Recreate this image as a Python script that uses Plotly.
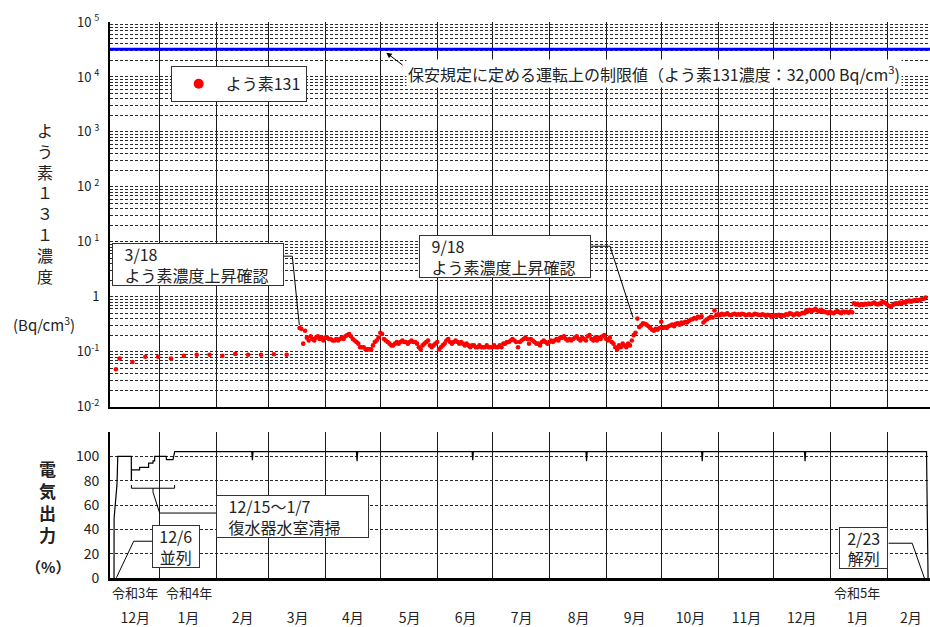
import plotly.graph_objects as go
import pandas as pd

FONT = "Noto Sans CJK JP"
W, H = 930, 627
ML, MR, MT, MB = 110, 0, 22, 47
PW = W - ML - MR
PH = H - MT - MB

# ---------------- data ----------------
LIMIT = 32000  # Bq/cm3

# weekly iodine-131 samples before 3/18
early_dates = ["2021-12-08", "2021-12-10", "2021-12-17", "2021-12-24", "2021-12-31",
               "2022-01-07", "2022-01-14", "2022-01-21", "2022-01-28", "2022-02-04",
               "2022-02-11", "2022-02-18", "2022-02-25", "2022-03-04", "2022-03-11"]
early_iodine = [0.048, 0.075, 0.065, 0.081, 0.081, 0.075, 0.084, 0.088, 0.088, 0.084,
                0.091, 0.088, 0.088, 0.090, 0.088]

# daily iodine-131 samples (start date, values)
iodine_2203 = ("2022-03-18", [0.27, 0.26, 0.14, 0.24, 0.18, 0.16, 0.19, 0.17, 0.16, 0.18,
                              0.19, 0.17, 0.18, 0.16])
iodine_2204 = ("2022-04-01", [0.18, 0.18, 0.17, 0.17, 0.16, 0.16, 0.17, 0.16, 0.17, 0.18,
                              0.17, 0.19, 0.20, 0.21, 0.19, 0.17, 0.16, 0.15, 0.14, 0.12,
                              0.12, 0.12, 0.11, 0.11, 0.11, 0.11, 0.13, 0.15, 0.16, 0.18])
iodine_2205 = ("2022-05-01", [0.22, 0.21, 0.17, 0.16, 0.15, 0.14, 0.13, 0.13, 0.14, 0.15,
                              0.14, 0.15, 0.16, 0.15, 0.15, 0.14, 0.15, 0.16, 0.15, 0.15,
                              0.14, 0.12, 0.11, 0.13, 0.14, 0.15, 0.16, 0.13, 0.12, 0.13, 0.14])
iodine_2206 = ("2022-06-01", [0.15, 0.11, 0.12, 0.13, 0.14, 0.16, 0.17, 0.15, 0.14, 0.15,
                              0.16, 0.15, 0.14, 0.15, 0.14, 0.13, 0.14, 0.13, 0.12, 0.13,
                              0.13, 0.12, 0.12, 0.13, 0.12, 0.12, 0.12, 0.13, 0.12, 0.12])
iodine_2207 = ("2022-07-01", [0.12, 0.13, 0.12, 0.12, 0.13, 0.12, 0.14, 0.14, 0.15, 0.15,
                              0.16, 0.17, 0.16, 0.15, 0.12, 0.15, 0.16, 0.17, 0.18, 0.17,
                              0.14, 0.17, 0.16, 0.15, 0.14, 0.14, 0.13, 0.15, 0.16, 0.15, 0.14])
iodine_2208 = ("2022-08-01", [0.15, 0.16, 0.15, 0.16, 0.17, 0.16, 0.18, 0.18, 0.19, 0.17,
                              0.16, 0.17, 0.16, 0.17, 0.18, 0.19, 0.17, 0.16, 0.18, 0.17,
                              0.16, 0.19, 0.20, 0.17, 0.16, 0.18, 0.16, 0.18, 0.17, 0.19, 0.20])
iodine_2209 = ("2022-09-01", [0.17, 0.16, 0.18, 0.15, 0.14, 0.12, 0.11, 0.13, 0.12, 0.14,
                              0.13, 0.12, 0.14, 0.13, 0.16, 0.20, 0.22,
                              0.40, 0.28, 0.30, 0.33, 0.32, 0.31, 0.29, 0.27, 0.25, 0.24,
                              0.26, 0.25, 0.27])
iodine_2210 = ("2022-10-01", [0.35, 0.27, 0.28, 0.27, 0.29, 0.30, 0.31, 0.29, 0.32, 0.33,
                              0.31, 0.34, 0.33, 0.35, 0.34, 0.36, 0.38, 0.39, 0.41, 0.40,
                              0.43, 0.42, 0.44, 0.34, 0.37, 0.39, 0.41, 0.43, 0.42, 0.56, 0.46])
iodine_2211 = ("2022-11-01", [0.48, 0.46, 0.49, 0.47, 0.48, 0.50, 0.47, 0.46, 0.48, 0.49,
                              0.47, 0.48, 0.47, 0.49, 0.48, 0.46, 0.47, 0.48, 0.46, 0.47,
                              0.49, 0.48, 0.47, 0.46, 0.48, 0.47, 0.45, 0.47, 0.46, 0.43])
iodine_2212 = ("2022-12-01", [0.44, 0.46, 0.45, 0.47, 0.44, 0.46, 0.45, 0.48, 0.47, 0.50,
                              0.49, 0.46, 0.48, 0.50, 0.47, 0.49, 0.51, 0.50, 0.56, 0.54,
                              0.58, 0.55, 0.57, 0.60, 0.56, 0.54, 0.58, 0.55, 0.53, 0.52, 0.50])
iodine_2301 = ("2023-01-01", [0.53, 0.51, 0.50, 0.53, 0.55, 0.52, 0.50, 0.54, 0.52, 0.53,
                              0.51, 0.54, 0.52, 0.76, 0.72, 0.74, 0.70, 0.73, 0.71, 0.74,
                              0.72, 0.75, 0.73, 0.76, 0.78, 0.74, 0.72, 0.75, 0.78, 0.80, 0.77])
iodine_2302 = ("2023-02-01", [0.72, 0.68, 0.66, 0.70, 0.74, 0.76, 0.74, 0.78, 0.76, 0.80,
                              0.78, 0.82, 0.85, 0.81, 0.84, 0.86, 0.88, 0.85, 0.88, 0.90,
                              0.92, 0.97])
daily_blocks = [iodine_2203, iodine_2204, iodine_2205, iodine_2206, iodine_2207, iodine_2208,
                iodine_2209, iodine_2210, iodine_2211, iodine_2212, iodine_2301, iodine_2302]

# electrical output (%)
power_dates = ["2021-12-06 23:00", "2021-12-07 00:00", "2021-12-08 14:00", "2021-12-09 00:00",
               "2021-12-16 09:00", "2021-12-16 10:00", "2021-12-16 12:00",
               "2021-12-20 21:00", "2021-12-20 22:00", "2021-12-25 19:00", "2021-12-25 20:00",
               "2021-12-28 04:00", "2021-12-28 05:00", "2021-12-29 02:00", "2021-12-29 03:00",
               "2022-01-04 09:00", "2022-01-04 12:00", "2022-01-08 02:00", "2022-01-09 00:00",
               "2022-02-20 00:00", "2022-02-20 08:00", "2022-02-20 16:00",
               "2022-04-18 00:00", "2022-04-18 08:00", "2022-04-18 16:00",
               "2022-06-20 00:00", "2022-06-20 08:00", "2022-06-20 16:00",
               "2022-08-21 00:00", "2022-08-21 08:00", "2022-08-21 16:00",
               "2022-10-23 00:00", "2022-10-23 08:00", "2022-10-23 16:00",
               "2022-12-18 00:00", "2022-12-18 08:00", "2022-12-18 16:00",
               "2023-02-22 12:00", "2023-02-23 08:00"]
power_values = [0, 49, 77, 100,
                100, 80, 89,
                89, 91, 91, 94.5,
                94.5, 96.4, 96.4, 100,
                100, 97.3, 97.3, 104,
                104, 97, 104,
                104, 96, 104,
                104, 97, 104,
                104, 96, 104,
                104, 96, 104,
                104, 96, 104,
                104, 0]

# axis labels
month_bounds = ["2022-01-01", "2022-02-01", "2022-03-01", "2022-04-01", "2022-05-01",
                "2022-06-01", "2022-07-01", "2022-08-01", "2022-09-01", "2022-10-01",
                "2022-11-01", "2022-12-01", "2023-01-01", "2023-02-01"]
month_tick_dates = ["2021-12-18 12:00", "2022-01-16 12:00", "2022-02-15", "2022-03-17",
                    "2022-04-16", "2022-05-17", "2022-06-16 12:00", "2022-07-17",
                    "2022-08-17", "2022-09-16 12:00", "2022-10-17", "2022-11-16 12:00",
                    "2022-12-16 12:00", "2023-01-16", "2023-02-14"]
month_tick_labels = ["12月", "1月", "2月", "3月", "4月", "5月", "6月", "7月", "8月",
                     "9月", "10月", "11月", "12月", "1月", "2月"]
era_dates = ["2021-12-18 12:00", "2022-01-17", "2023-01-15 12:00"]
era_labels = ["令和3年", "令和4年", "令和5年"]
decade_vals = [0.01, 0.1, 1, 10, 100, 1000, 10000, 100000]
decade_text = ["10<sup>-2</sup>", "10<sup>-1</sup>", "1", "10 <sup>1</sup>", "10 <sup>2</sup>",
               "10 <sup>3</sup>", "10 <sup>4</sup>", "10 <sup>5</sup>"]
power_ticks = [0, 20, 40, 60, 80, 100, 120]
power_tick_text = ["0", "20", "40", "60", "80", "100", ""]

X_RANGE = ["2021-12-04 18:30", "2023-02-24 09:20"]

# ---------------- build ----------------
iod_x = list(pd.to_datetime(early_dates))
iod_y = list(early_iodine)
for start, vals in daily_blocks:
    iod_x += list(pd.date_range(start, periods=len(vals), freq="D"))
    iod_y += vals

minor_log = [k * 10 ** e for e in range(-2, 5) for k in range(2, 10)]


def px(x):
    return (x - ML) / PW


def py(y):
    return (H - MB - y) / PH


GRID = "#2a2a2a"
DASH = "3px,2px"

fig = go.Figure()
fig.add_trace(go.Scatter(x=iod_x, y=iod_y, mode="markers", xaxis="x2", yaxis="y2",
                         marker=dict(color="#ff0000", size=4.6), showlegend=False,
                         hoverinfo="skip"))
fig.add_trace(go.Scatter(x=[None], y=[None], mode="markers", xaxis="x2", yaxis="y2",
                         marker=dict(color="#ff0000", size=10), name="よう素131",
                         showlegend=True))
fig.add_trace(go.Scatter(x=power_dates, y=power_values, mode="lines", xaxis="x", yaxis="y",
                         line=dict(color="black", width=1.2), showlegend=False,
                         hoverinfo="skip"))

minor_x = dict(tickmode="array", tickvals=month_bounds, showgrid=True, gridcolor="#1a1a1a",
               gridwidth=1.3, ticks="")
tickfont = dict(family=FONT, size=14, color="#222")

fig.update_layout(
    width=W, height=H,
    margin=dict(l=ML, r=MR, t=MT, b=MB, pad=0),
    paper_bgcolor="white", plot_bgcolor="white",
    font=dict(family=FONT, color="#222"),
    xaxis=dict(type="date", domain=[0, 1], anchor="y", range=X_RANGE,
               tickmode="array", tickvals=month_tick_dates, ticktext=month_tick_labels,
               showgrid=False, ticks="", ticklabelstandoff=25, tickfont=tickfont,
               minor=minor_x, showline=True, linecolor="black", linewidth=3, zeroline=False),
    xaxis2=dict(type="date", domain=[0, 1], anchor="y2", range=X_RANGE, matches="x",
                tickmode="array", tickvals=month_tick_dates, showticklabels=False,
                showgrid=False, ticks="", minor=minor_x, showline=True, linecolor="black",
                linewidth=2, zeroline=False),
    yaxis=dict(domain=[0, py(433.6)], range=[0, 120], anchor="x", tickmode="array",
               tickvals=power_ticks, ticktext=power_tick_text, showgrid=True,
               gridcolor=GRID, griddash=DASH, gridwidth=1, showline=True,
               linecolor="black", linewidth=2, ticks="", ticklabelstandoff=6,
               tickfont=tickfont, zeroline=False),
    yaxis2=dict(type="log", domain=[py(408), 1], range=[-2, 5], anchor="x2",
                tickmode="array", tickvals=decade_vals, ticktext=decade_text,
                showgrid=True, gridcolor=GRID, griddash=DASH, gridwidth=1,
                minor=dict(tickmode="array", tickvals=minor_log, showgrid=True,
                           gridcolor=GRID, griddash=DASH, gridwidth=1, ticks=""),
                showline=True, linecolor="black", linewidth=2, ticks="",
                ticklabelstandoff=6, tickfont=dict(family=FONT, size=13, color="#222"),
                zeroline=False),
    legend=dict(x=px(170.7), y=py(66), xanchor="left", yanchor="top", bgcolor="white",
                bordercolor="#333", borderwidth=1, itemwidth=44,
                font=dict(family=FONT, size=16, color="#222")),
)

# limit line
fig.add_shape(type="line", xref="x2 domain", yref="y2", x0=0, x1=1, y0=LIMIT, y1=LIMIT,
              line=dict(color="#0000ff", width=3))

ann = []
txtfont = dict(family=FONT, size=16, color="#222")
# limit label + arrow
ann.append(dict(xref="paper", yref="paper", x=px(405.9), y=py(73.4), xanchor="left",
                yanchor="middle", showarrow=False, bgcolor="white",
                text="保安規定に定める運転上の制限値（よう素131濃度：32,000 Bq/cm<sup>3</sup>)",
                font=txtfont))
ann.append(dict(xref="paper", yref="paper", x=px(386.3), y=py(52.8), text="",
                showarrow=True, ax=17.8, ay=13.5, arrowhead=2, arrowsize=1.1,
                arrowwidth=1, arrowcolor="black", standoff=0))


def box(x0, y0, x1, y1, text, align):
    return dict(xref="paper", yref="paper", x=px(x0), y=py(y0), xanchor="left",
                yanchor="top", text=text, align=align, showarrow=False,
                width=(x1 - x0) - 2, height=(y1 - y0) - 2, borderpad=0, borderwidth=1,
                bordercolor="#333", bgcolor="white", font=txtfont, valign="middle")


pad = "\u2002\u00a0"
ann.append(box(112, 244, 284, 287, pad + "3/18<br>" + pad + "よう素濃度上昇確認", "left"))
ann.append(box(419.2, 235.9, 591.4, 279.1, pad + "9/18<br>" + pad + "よう素濃度上昇確認", "left"))
ann.append(box(216.2, 497.2, 368.7, 540.5, pad + "12/15～1/7<br>" + pad + "復水器水室清掃", "left"))
ann.append(box(152, 527.2, 199.6, 570.4, "12/6<br>並列", "center"))
ann.append(box(839.2, 529.3, 888.6, 571.3, "2/23<br>解列", "center"))

# axis titles
ann.append(dict(xref="paper", yref="paper", x=px(45), y=py(203.4), xanchor="center",
                yanchor="middle", showarrow=False,
                text="よ<br>う<br>素<br>１<br>３<br>１<br>濃<br>度",
                font=dict(family=FONT, size=16, color="#222")))
ann.append(dict(xref="paper", yref="paper", x=px(44), y=py(325), xanchor="center",
                yanchor="middle", showarrow=False, text="(Bq/cm<sup>3</sup>)",
                font=dict(family=FONT, size=15, color="#222")))
ann.append(dict(xref="paper", yref="paper", x=px(47), y=py(503.5), xanchor="center",
                yanchor="middle", showarrow=False, text="<b>電<br>気<br>出<br>力</b>",
                font=dict(family=FONT, size=17, color="#222")))
ann.append(dict(xref="paper", yref="paper", x=px(48), y=py(568), xanchor="center",
                yanchor="middle", showarrow=False, text="<b>（%）</b>",
                font=dict(family=FONT, size=15, color="#222")))

# era labels
for d, t in zip(era_dates, era_labels):
    ann.append(dict(xref="x", yref="paper", x=d, y=py(595), xanchor="center",
                    yanchor="middle", showarrow=False, text=t,
                    font=dict(family=FONT, size=13, color="#222")))

fig.update_layout(annotations=ann)


def path(points):
    s = "M " + " L ".join(f"{px(x):.5f},{py(y):.5f}" for x, y in points)
    return s


leaders = [
    [(284, 257), (292.3, 257), (299.3, 326)],
    [(591.4, 247), (610, 247), (633, 318.6)],
    [(131.4, 486.6), (131.4, 489.9), (174.6, 489.9), (174.6, 486.6)],
    [(153, 489.9), (153, 494), (159.7, 514.8), (216.2, 514.8)],
    [(152, 543.1), (133.7, 543.1), (116.4, 579.7)],
    [(888.6, 545.1), (912.2, 545.1), (924.6, 580.7)],
]
for pts in leaders:
    fig.add_shape(type="path", xref="paper", yref="paper", path=path(pts),
                  line=dict(color="black", width=1))

fig.write_html("out.html", config={"displayModeBar": False},
               post_script="document.body.style.margin='0';")
